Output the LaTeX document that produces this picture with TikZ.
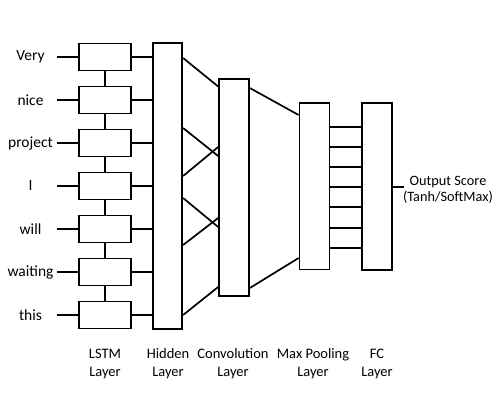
\documentclass[tikz,border=0pt]{standalone}
\usepackage{fontspec}
\setmainfont{Carlito}
\begin{document}
\begin{tikzpicture}[x=1pt,y=-1pt,
  blk/.style={draw,line width=1.7pt,fill=white,inner sep=0pt},
  conn/.style={line width=1.7pt},
  lbl/.style={font=\fontsize{15.5}{18}\selectfont,inner sep=0pt,align=center},
  laylbl/.style={lbl,font=\fontsize{14.5}{18}\selectfont}]
\useasboundingbox (0,0) rectangle (498,415);
% LSTM column
\foreach \w [count=\i from 0] in {Very,nice,project,I,will,waiting,this}{
  \pgfmathsetmacro\yy{57+43*\i}
  \node[blk,minimum width=52pt,minimum height=27pt] (l\i) at (105,\yy) {};
  \node[lbl] (w\i) at (30.5,\yy) {\w};
  \coordinate (s\i) at (57,\yy);
}
\node[blk,minimum width=29.5pt,minimum height=286pt] (hid) at (167.5,186) {};
\node[blk,minimum width=30pt,minimum height=217pt] (conv) at (234,187.5) {};
\node[blk,minimum width=30pt,minimum height=166.5pt] (pool) at (314.5,186.25) {};
\node[blk,minimum width=30pt,minimum height=167pt] (fc) at (377,186.5) {};
\foreach \i in {0,...,6}{
  \draw[conn] (s\i) -- (l\i.west);
  \draw[conn] (l\i.east) -- (hid.west |- l\i.east);
}
\foreach \i/\j in {0/1,1/2,2/3,3/4,4/5,5/6}{
  \draw[conn] (l\i.south) -- (l\j.north);
}
% hidden -> convolution
\draw[conn] (hid.east |- {(0,58)}) -- (conv.west |- {(0,86.5)});
\draw[conn] (hid.east |- {(0,128)}) -- (conv.west |- {(0,156)});
\draw[conn] (hid.east |- {(0,176)}) -- (conv.west |- {(0,147)});
\draw[conn] (hid.east |- {(0,198)}) -- (conv.west |- {(0,227)});
\draw[conn] (hid.east |- {(0,245)}) -- (conv.west |- {(0,218)});
\draw[conn] (hid.east |- {(0,315)}) -- (conv.west |- {(0,287)});
% convolution -> pooling
\draw[conn] (conv.east |- {(0,88)}) -- (pool.west |- {(0,115)});
\draw[conn] (conv.east |- {(0,288)}) -- (pool.west |- {(0,258)});
% pooling -> FC
\foreach \yy in {127,147,167,187,207,228,248}{
  \draw[conn] (pool.east |- {(0,\yy)}) -- (fc.west |- {(0,\yy)});
}
% output
\coordinate (oend) at (404,187);
\draw[conn] (fc.east |- oend) -- (oend);
\node[lbl,font=\fontsize{14.3}{16}\selectfont] (out) at (448,190) {Output Score\\(Tanh/SoftMax)};
% bottom labels
\node[laylbl] (t1) at (105,364) {LSTM\\Layer};
\node[laylbl] (t2) at (168,364) {Hidden\\Layer};
\node[laylbl] (t3) at (233,364) {Convolution\\Layer};
\node[laylbl] (t4) at (313,364) {Max Pooling\\Layer};
\node[laylbl] (t5) at (377,364) {FC\\Layer};
\end{tikzpicture}
\end{document}
